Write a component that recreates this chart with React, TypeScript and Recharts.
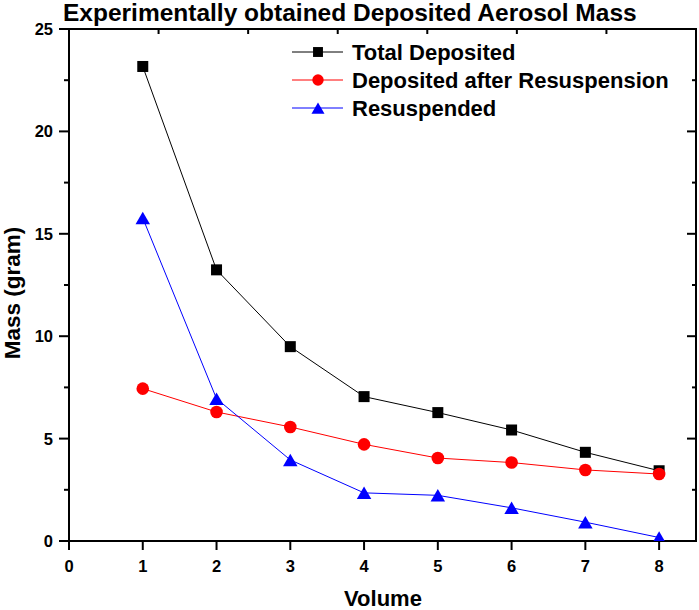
import { LineChart, Line, XAxis, YAxis } from "recharts";

const volumes = [1, 2, 3, 4, 5, 6, 7, 8];
const totalDeposited = [23.17, 13.24, 9.49, 7.05, 6.27, 5.42, 4.33, 3.43];
const depositedAfter = [7.44, 6.3, 5.57, 4.72, 4.05, 3.83, 3.47, 3.27];
const resuspended = [15.77, 6.95, 3.96, 2.35, 2.23, 1.62, 0.92, 0.17];

const xTicks = [0, 1, 2, 3, 4, 5, 6, 7, 8];
const yTicks = [0, 2.5, 5, 7.5, 10, 12.5, 15, 17.5, 20, 22.5, 25];
const topTicks = [0, 1, 2, 3, 4, 5, 6, 7, 8, 9, 10];

const seriesNames = ["Total Deposited", "Deposited after Resuspension", "Resuspended"];
const seriesColors = ["#000000", "#ff0000", "#0000ff"];

const FONT = '"Liberation Sans", Arial, sans-serif';

const data = volumes.map((v, i) => ({
  volume: v,
  total: totalDeposited[i],
  after: depositedAfter[i],
  resusp: resuspended[i],
}));

const axisLine = { stroke: "#000", strokeWidth: 2, strokeLinecap: "square" as const };

function LeftTick(props: any) {
  const { x, y, payload } = props;
  const major = payload.value % 5 === 0;
  return (
    <g>
      <line x1={x - (major ? 10 : 5)} x2={x} y1={y} y2={y} stroke="#000" strokeWidth={2} />
      {major && (
        <text x={x - 16} y={y + 6} textAnchor="end" fontFamily={FONT} fontWeight="bold" fontSize={16.5} fill="#000">
          {payload.value}
        </text>
      )}
    </g>
  );
}

function RightTick(props: any) {
  const { x, y, payload } = props;
  const major = payload.value % 5 === 0;
  return <line x1={x - (major ? 9 : 4)} x2={x} y1={y} y2={y} stroke="#000" strokeWidth={2} />;
}

function BottomTick(props: any) {
  const { x, y, payload } = props;
  return (
    <g>
      <line x1={x} x2={x} y1={y} y2={y + 9} stroke="#000" strokeWidth={2} />
      <text x={x} y={y + 31} textAnchor="middle" fontFamily={FONT} fontWeight="bold" fontSize={16.5} fill="#000">
        {payload.value}
      </text>
    </g>
  );
}

function TopTick(props: any) {
  const { x, y } = props;
  return <line x1={x} x2={x} y1={y} y2={y + 5} stroke="#000" strokeWidth={2} />;
}

function Marker({ kind, cx, cy, color, size = 1 }: { kind: number; cx: number; cy: number; color: string; size?: number }) {
  if (kind === 0) {
    const s = 11 * size;
    return <rect x={cx - s / 2} y={cy - s / 2} width={s} height={s} fill={color} />;
  }
  if (kind === 1) {
    return <circle cx={cx} cy={cy} r={6.3 * size} fill={color} />;
  }
  const w = 14.5 * size;
  const h = 12.5 * size;
  return (
    <polygon
      points={`${cx},${cy - h / 2} ${cx + w / 2},${cy + h / 2} ${cx - w / 2},${cy + h / 2}`}
      fill={color}
    />
  );
}

function makeDot(kind: number) {
  return (p: any) => (
    <g key={`dot-${kind}-${p.index}`}>
      <Marker kind={kind} cx={p.cx} cy={p.cy} color={seriesColors[kind]} />
    </g>
  );
}

export default function App() {
  return (
    <div style={{ position: "absolute", left: 0, top: 0, width: 699, height: 610, background: "#fff" }}>
      <LineChart width={699} height={610} data={data} margin={{ top: 28, right: 0, bottom: 41, left: 0 }}>
        <XAxis
          xAxisId="bottom"
          dataKey="volume"
          type="number"
          domain={[0, 8.5]}
          ticks={xTicks}
          interval={0}
          allowDataOverflow
          height={28}
          tickSize={0}
          tickMargin={0}
          tickLine={false}
          axisLine={axisLine}
          tick={BottomTick}
        />
        <XAxis
          xAxisId="top"
          orientation="top"
          type="number"
          domain={[0, 10]}
          ticks={topTicks}
          interval={0}
          allowDataOverflow
          height={1}
          tickSize={0}
          tickMargin={0}
          tickLine={false}
          axisLine={axisLine}
          tick={TopTick}
        />
        <YAxis
          yAxisId="left"
          type="number"
          domain={[0, 25]}
          ticks={yTicks}
          interval={0}
          allowDataOverflow
          width={69}
          tickSize={0}
          tickMargin={0}
          tickLine={false}
          axisLine={axisLine}
          tick={LeftTick}
        />
        <YAxis
          yAxisId="right"
          orientation="right"
          type="number"
          domain={[0, 25]}
          ticks={yTicks}
          interval={0}
          allowDataOverflow
          width={3}
          tickSize={0}
          tickMargin={0}
          tickLine={false}
          axisLine={axisLine}
          tick={RightTick}
        />
        <Line
          xAxisId="bottom"
          yAxisId="left"
          dataKey="total"
          name={seriesNames[0]}
          stroke={seriesColors[0]}
          strokeWidth={1}
          dot={makeDot(0)}
          isAnimationActive={false}
        />
        <Line
          xAxisId="bottom"
          yAxisId="left"
          dataKey="after"
          name={seriesNames[1]}
          stroke={seriesColors[1]}
          strokeWidth={1}
          dot={makeDot(1)}
          isAnimationActive={false}
        />
        <Line
          xAxisId="bottom"
          yAxisId="left"
          dataKey="resusp"
          name={seriesNames[2]}
          stroke={seriesColors[2]}
          strokeWidth={1}
          dot={makeDot(2)}
          isAnimationActive={false}
        />
      </LineChart>
      <svg
        width={699}
        height={610}
        style={{ position: "absolute", left: 0, top: 0, pointerEvents: "none" }}
      >
        <text x={63} y={21} fontFamily={FONT} fontWeight="bold" fontSize={24.5} fill="#000">
          Experimentally obtained Deposited Aerosol Mass
        </text>
        <text
          transform="translate(20,293) rotate(-90)"
          textAnchor="middle"
          fontFamily={FONT}
          fontWeight="bold"
          fontSize={22.5}
          fill="#000"
        >
          Mass (gram)
        </text>
        <text x={383} y={606} textAnchor="middle" fontFamily={FONT} fontWeight="bold" fontSize={22} fill="#000">
          Volume
        </text>
        {seriesNames.map((name, i) => {
          const y = 52 + i * 28;
          return (
            <g key={name}>
              <line x1={292} x2={343} y1={y} y2={y} stroke={seriesColors[i]} strokeWidth={1} />
              <Marker kind={i} cx={318} cy={y} color={seriesColors[i]} size={0.9} />
              <text x={352} y={y + 8} fontFamily={FONT} fontWeight="bold" fontSize={22} fill="#000">
                {name}
              </text>
            </g>
          );
        })}
      </svg>
    </div>
  );
}
